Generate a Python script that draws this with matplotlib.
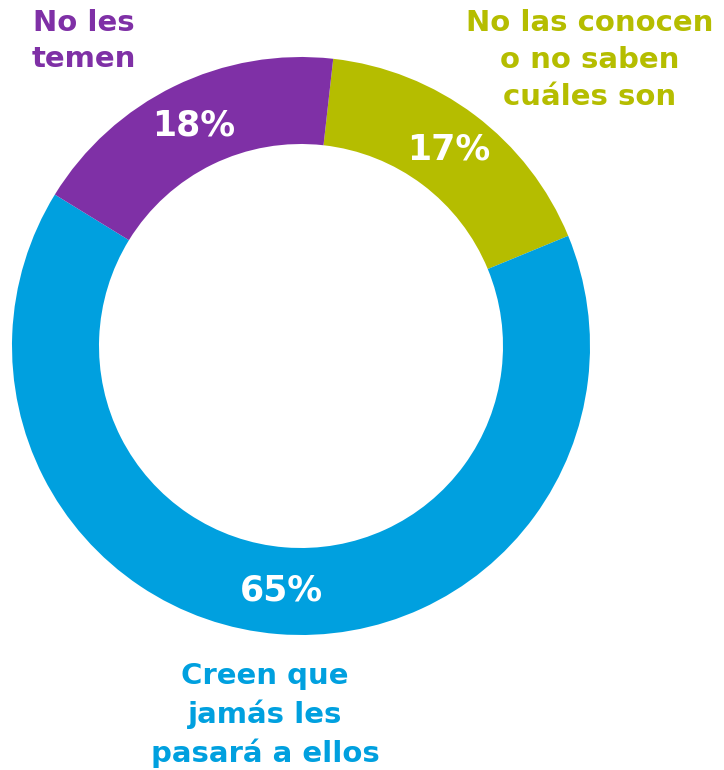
import matplotlib
matplotlib.use("Agg")
import matplotlib.pyplot as plt

# Data
labels = ["No las conocen\no no saben\ncuáles son", "Creen que\njamás les\npasará a ellos", "No les\ntemen"]
values = [17, 65, 18]
colors = ["#B5BD00", "#00A0DF", "#7F30A6"]

plt.rcParams['font.family'] = ['DejaVu Sans']

fig = plt.figure(figsize=(7.24, 7.7), dpi=100)
ax = fig.add_axes([0, 0, 1, 1])

# Donut
wedges, _, autotexts = ax.pie(values, colors=colors, startangle=83.6, counterclock=False,
                              center=(301, 424), radius=289,
                              wedgeprops=dict(width=87, linewidth=0),
                              autopct='%d%%', pctdistance=0.85, frame=True)
for t in autotexts:
    t.set_color('white')
    t.set_fontsize(25)
    t.set_fontweight('bold')
ax.axis('off')
ax.set_xlim(0, 724)
ax.set_ylim(0, 770)
ax.set_aspect('equal')

# Category labels
ax.text(590, 710, labels[0], color=colors[0], fontsize=21, fontweight='bold',
        ha='center', va='center', linespacing=1.4)
ax.text(265, 55, labels[1], color=colors[1], fontsize=21, fontweight='bold',
        ha='center', va='center', linespacing=1.4)
ax.text(84, 729, labels[2], color=colors[2], fontsize=21, fontweight='bold',
        ha='center', va='center', linespacing=1.4)

plt.savefig("out.png", dpi=100)
